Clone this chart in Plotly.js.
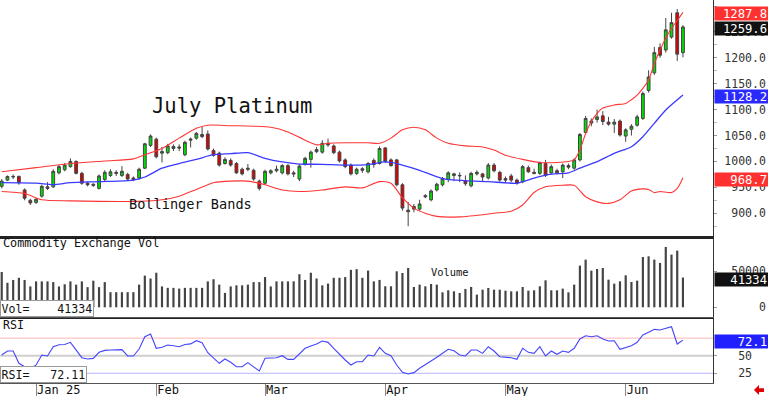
<!DOCTYPE html>
<html><head><meta charset="utf-8">
<script src="https://cdn.plot.ly/plotly-3.0.1.min.js"></script>
<style>html,body{margin:0;padding:0;background:#fff;}#chart{width:768px;height:396px;}</style>
</head><body><div id="chart"></div>
<script>
const dates = [
"2024-12-23","2024-12-24","2024-12-26","2024-12-27","2024-12-30","2024-12-31",
"2025-01-02","2025-01-03","2025-01-06","2025-01-07","2025-01-08","2025-01-09","2025-01-10","2025-01-13","2025-01-14","2025-01-15","2025-01-16","2025-01-17","2025-01-21","2025-01-22","2025-01-23","2025-01-24","2025-01-27","2025-01-28","2025-01-29","2025-01-30","2025-01-31",
"2025-02-03","2025-02-04","2025-02-05","2025-02-06","2025-02-07","2025-02-10","2025-02-11","2025-02-12","2025-02-13","2025-02-14","2025-02-18","2025-02-19","2025-02-20","2025-02-21","2025-02-24","2025-02-25","2025-02-26","2025-02-27","2025-02-28",
"2025-03-03","2025-03-04","2025-03-05","2025-03-06","2025-03-07","2025-03-10","2025-03-11","2025-03-12","2025-03-13","2025-03-14","2025-03-17","2025-03-18","2025-03-19","2025-03-20","2025-03-21","2025-03-24","2025-03-25","2025-03-26","2025-03-27","2025-03-28","2025-03-31",
"2025-04-01","2025-04-02","2025-04-03","2025-04-04","2025-04-07","2025-04-08","2025-04-09","2025-04-10","2025-04-11","2025-04-14","2025-04-15","2025-04-16","2025-04-17","2025-04-21","2025-04-22","2025-04-23","2025-04-24","2025-04-25","2025-04-28","2025-04-29","2025-04-30",
"2025-05-01","2025-05-02","2025-05-05","2025-05-06","2025-05-07","2025-05-08","2025-05-09","2025-05-12","2025-05-13","2025-05-14","2025-05-15","2025-05-16","2025-05-19","2025-05-20","2025-05-21","2025-05-22","2025-05-23","2025-05-27","2025-05-28","2025-05-29","2025-05-30",
"2025-06-02","2025-06-03","2025-06-04","2025-06-05","2025-06-06","2025-06-09","2025-06-10","2025-06-11","2025-06-12","2025-06-13","2025-06-16"];

const open = [952,964,970,971,945,925,921,933,951,951,978,984,990,1000,977,958,956,948,965,973,979,973,975,968,968,987,1031,
1043,1016,1017,1025,1028,1013,1041,1045,1052,1053,1021,1016,996,1002,996,985,987,983,962,
958,978,982,978,992,978,966,995,1004,1019,1018,1035,1030,1018,1003,993,977,986,980,1002,996,
1026,1003,1003,955,906,913,908,934,926,945,955,965,973,972,963,953,976,976,968,993,979,
967,972,964,961,988,979,977,996,978,982,980,992,987,1003,1056,1074,1081,1088,1076,1072,1078,
1049,1062,1070,1083,1137,1171,1220,1215,1240,1287,1210];
const high = [966,973,975,973,948,928,929,955,960,985,993,997,1006,1002,980,961,958,975,983,985,983,991,978,971,988,1036,1052,
1046,1028,1034,1033,1033,1040,1046,1057,1068,1060,1025,1019,1008,1006,999,988,995,986,965,
984,985,992,995,995,982,994,1009,1021,1028,1041,1044,1033,1021,1006,996,988,989,999,1006,1029,
1028,1006,1005,958,922,918,926,937,946,959,970,981,978,979,973,980,983,978,997,997,982,
971,976,967,993,992,986,1000,1003,994,986,996,996,1006,1055,1088,1083,1100,1097,1086,1082,1081,
1064,1072,1090,1135,1176,1221,1228,1277,1287,1294,1263];
const low = [948,962,966,955,925,916,918,930,945,949,975,981,988,975,955,952,951,946,962,970,972,970,962,962,965,985,1028,
1006,998,1014,1020,1020,1010,1027,1042,1045,1021,1009,990,994,990,976,973,981,963,944,
955,975,979,975,973,970,962,992,988,1016,1015,1028,1014,998,987,973,974,978,977,988,994,
997,990,952,905,875,902,905,929,923,942,952,960,962,960,953,950,973,962,965,979,961,
960,960,955,958,978,975,974,970,975,975,968,985,984,1000,1053,1068,1075,1070,1069,1055,1048,
1038,1050,1067,1080,1133,1167,1200,1210,1237,1194,1201];
const close = [962,971,971,959,929,920,927,952,948,981,990,993,1000,977,958,955,954,972,979,980,977,981,966,965,985,1034,1049,
1009,1019,1030,1029,1026,1037,1043,1054,1048,1024,1012,993,1004,993,978,976,985,966,948,
981,982,985,992,976,976,991,1006,1018,1023,1035,1032,1017,1001,990,976,985,983,996,994,1025,
1000,992,955,910,903,908,918,932,943,956,967,978,976,973,957,977,979,970,993,982,964,
964,964,958,990,980,977,998,973,990,978,993,989,1003,1052,1083,1078,1086,1077,1072,1076,1051,
1061,1068,1086,1131,1163,1210,1205,1254,1268,1207,1259.6];

const volume = [49000,34000,38000,41000,38000,29000,36000,36000,36000,35000,29000,32000,36000,31500,36000,28000,37000,
28000,35000,21000,21000,21000,21000,21000,31500,44000,40000,48000,29000,27000,27000,26000,27000,27000,27000,27000,
36000,39000,31500,20000,29000,30500,30500,31500,35000,35000,42000,29000,36000,36000,36000,36000,46000,38000,48000,
40000,30500,33000,41000,41000,42000,52000,53000,41000,51000,36000,38000,
29200,29200,50000,47700,54600,28200,31500,29200,32400,31500,20800,23600,22200,19900,25500,28200,17600,24500,26900,
24500,24500,23100,22200,22200,28200,23100,23600,29200,37500,23600,23600,25900,20800,31500,57900,66200,50900,53200,
54600,38400,32800,36100,44400,35200,37000,69900,70800,66200,61600,83800,73200,78700,41334];

const rsi = [51,56.7,56.7,39.2,34.4,31.1,36.8,51,49.6,62.8,65.6,65.9,69,58.1,47.2,45.3,46.2,54.8,57.6,58.1,58.1,58.6,49.6,49.6,59.5,77,80.8,
60.5,61.9,65.2,64.2,62.8,65.9,66.8,71.3,68.5,54.3,47.2,39.2,45.3,40.6,34.4,34.4,40.1,34.4,28.3,
46.3,46.3,47.2,50,44.8,44.8,53.3,60.5,63.8,66.6,70.9,69,60.5,52,43.9,36.8,41.5,41.5,51,49.6,61.9,
53.3,50,36.8,26.4,24,25.9,32.1,36.8,42.5,47.7,53.3,59.1,57.1,51,49.6,58.1,58.1,53.3,62.8,56.7,48.6,
48.2,47.2,44.8,60.5,54.8,53.3,62.8,49.6,56.7,52,56.7,54.8,60.5,73.7,78.4,77,78.4,73.7,70.9,71.3,59.1,
61.9,64.2,69,79.4,83.2,87.5,86.5,88.9,91.2,66.6,72.11];

const upperIdx = [0,6,12,18,23,25,28,31,34,36,40,44,47,50,53,55,57,60,64,66,68,70,72,74,76,78,81,84,86,88,91,94,97,99,100,101,102,103,104,105,107,109,110,111,112,113,114,115,116,117,118,119];
const upperBand = [980,988,996,1001,1005,1013,1025,1045,1064,1070,1069,1068,1066,1057,1041,1032,1035,1036,1036,1035,1045,1061,1066,1061,1045,1035,1030,1028,1022,1012,1004,998,998,1000,1003,1022,1054,1077,1093,1103,1109,1112,1119,1128,1141,1157,1189,1215,1238,1257,1272,1287.8];
const midIdx = [0,6,9,12,17,23,25,28,31,34,37,40,43,46,49,52,56,60,64,67,69,73,77,81,85,90,91,93,96,99,101,104,107,110,112,114,116,119];
const midBand = [959,958,955,959,961,964,970,987,996,1004,1013,1015,1017,1006,999,995,994.5,993,994,999,996,983,967,963,961,958,961,968,975.6,978,987,999.5,1015.7,1028.5,1047.8,1073.6,1099.3,1128.2];
const lowerIdx = [0,4,7,12,17,24,28,31,34,37,40,43,46,49,52,56,60,63,66,68,70,72,74,76,80,86,89,91,93,95,98,100,102,104,106,108,110,112,113,114,115,117,118,119];
const lowerBand = [942,938,926,924,923,923,926,933,946,959,962,962,955,945,942,945,951,949,961,958,930,910,900,894,893,900,904,916,940,951,954,954,932,922,919,926,943,947,946,940,942,940,948,968.7];

const monthTicks = ["2025-01-02","2025-02-03","2025-03-03","2025-04-01","2025-05-01","2025-06-02"];
const monthLabels = ["Jan 25","Feb","Mar","Apr","May","Jun"];
const priceTicks = [900,950,1000,1050,1100,1150,1200,1250,1300];
const volTicks = [0,50000];
const rsiTicks = [25,50];
const rsiLevels = [75,50,25];

const F = 'DejaVu Sans Mono';
const NB = '\u00a0';
const pad = (s,n)=> NB.repeat(Math.max(0,n-s.length))+s;
const last = a => a[a.length-1];
const H = 383; // plot height in px
const py = px => (H - px)/H;

const traces = [
 {type:'candlestick', x:dates, open:open, high:high, low:low, close:close, xaxis:'x', yaxis:'y',
  increasing:{line:{color:'#444',width:1}, fillcolor:'#00dd00'},
  decreasing:{line:{color:'#444',width:1}, fillcolor:'#dd0000'},
  whiskerwidth:0, hoverinfo:'skip'},
 {type:'scatter', mode:'lines', x:upperIdx.map(i=>dates[i]), y:upperBand, xaxis:'x', yaxis:'y', line:{color:'#ff3535',width:1.1,shape:'spline',smoothing:0.7}, hoverinfo:'skip'},
 {type:'scatter', mode:'lines', x:midIdx.map(i=>dates[i]), y:midBand, xaxis:'x', yaxis:'y', line:{color:'#3a3aff',width:1.3,shape:'spline',smoothing:0.7}, hoverinfo:'skip'},
 {type:'scatter', mode:'lines', x:lowerIdx.map(i=>dates[i]), y:lowerBand, xaxis:'x', yaxis:'y', line:{color:'#ff3535',width:1.1,shape:'spline',smoothing:0.7}, hoverinfo:'skip'},
 {type:'bar', x:dates, y:volume, xaxis:'x2', yaxis:'y2', marker:{color:'#444',line:{width:0}}, width:0.38, hoverinfo:'skip'},
 {type:'scatter', mode:'lines', x:dates, y:rsi, xaxis:'x3', yaxis:'y3', line:{color:'#4444ff',width:1.1}, hoverinfo:'skip'}
];

const ax = {showgrid:false, zeroline:false, fixedrange:true};
const rsiColors = ['#ffb4b4','#cfcfcf','#b4b4ff'];
const rsiWidths = [1,2,1];
const shapes = rsiLevels.map((v,k)=>({type:'line', xref:'paper', x0:0, x1:1, yref:'y3', y0:v, y1:v, layer:'below', line:{color:rsiColors[k], width:rsiWidths[k]}}));
// bottom-right red arrow
shapes.push({type:'path', xref:'paper', yref:'paper', path:'M 1.0575 -0.0185 L 1.0645 -0.0055 L 1.0645 -0.0135 L 1.0715 -0.0135 L 1.0715 -0.0235 L 1.0645 -0.0235 L 1.0645 -0.0315 Z', fillcolor:'#e00000', line:{width:0}});

function valBox(val, txt, yref, bg){
  return {xref:'paper', x:1, xanchor:'left', xshift:1, yref:yref, y:val, yanchor:'middle', yshift:-1.5,
    text:txt, showarrow:false, bgcolor:bg, width:51, height:11, align:'right', borderpad:1,
    font:{family:F, size:12.2, color:'#ffffff'}};
}
const txt = (t,xpx,ypx,size,extra)=>Object.assign({xref:'paper', yref:'paper', x:xpx/713, y:py(ypx), xanchor:'left', yanchor:'middle', text:t, showarrow:false, font:{family:F, size:size, color:'#111'}}, extra||{});

const annotations = [
 valBox(last(upperBand), last(upperBand).toFixed(1), 'y', '#ff3030'),
 valBox(last(close), last(close).toFixed(1), 'y', '#111111'),
 valBox(last(midBand), last(midBand).toFixed(1), 'y', '#2a2aff'),
 valBox(last(lowerBand), last(lowerBand).toFixed(1), 'y', '#ff3030'),
 valBox(last(volume), String(last(volume)), 'y2', '#111111'),
 valBox(last(rsi), last(rsi).toFixed(1), 'y3', '#2020ff'),
 txt('July Platinum', 150, 106, 20.5),
 txt('Bollinger Bands', 127, 204, 13.6),
 txt('Commodity Exchange Vol', 1, 242.5, 11.8),
 txt('Volume', 429, 272, 10.4),
 txt('RSI', 1, 325, 11.6),
 {xref:'paper', yref:'paper', x:0, y:py(317), xanchor:'left', yanchor:'bottom', text:'Vol='+pad(String(last(volume)),9), showarrow:false,
  bgcolor:'#ffffff', bordercolor:'#999', borderwidth:1, borderpad:0.5, font:{family:F,size:11.6,color:'#111'}},
 {xref:'paper', yref:'paper', x:0, y:0, xanchor:'left', yanchor:'bottom', text:'RSI='+pad(last(rsi).toFixed(2),8), showarrow:false,
  bgcolor:'#ffffff', bordercolor:'#999', borderwidth:1, borderpad:0.5, font:{family:F,size:11.6,color:'#111'}}
];

const layout = {
 width:768, height:396, margin:{l:0,r:55,t:0,b:13,pad:0}, paper_bgcolor:'#fff', plot_bgcolor:'#fff', showlegend:false,
 font:{family:F, size:11.5, color:'#222'},
 xaxis:Object.assign({}, ax, {domain:[0,1], anchor:'y', type:'category', range:[-0.3,124.25], autorange:false, showticklabels:false, ticks:'', showline:true, linecolor:'#222', linewidth:2, rangeslider:{visible:false}}),
 xaxis2:Object.assign({}, ax, {matches:'x', anchor:'y2', type:'category', showticklabels:false, ticks:'', showline:true, linecolor:'#222', linewidth:2, mirror:true}),
 xaxis3:Object.assign({}, ax, {matches:'x', anchor:'y3', type:'category', showline:true, linecolor:'#555', linewidth:1, mirror:true,
   tickmode:'array', tickvals:monthTicks, ticktext:monthLabels, ticks:'outside', ticklen:13, tickcolor:'#888', tickwidth:1,
   ticklabelposition:'outside right', ticklabelstandoff:-4, tickfont:{family:F,size:12,color:'#111'}}),
 yaxis:Object.assign({}, ax, {domain:[py(237),1], range:[854.2,1311.6], autorange:false, side:'right', anchor:'x', showline:true, linecolor:'#333', linewidth:1,
   tickmode:'array', tickvals:priceTicks, ticktext:priceTicks.map(v=>pad(v.toFixed(1),6)), ticks:'outside', ticklen:3, tickcolor:'#999', ticklabelstandoff:5,
   tickfont:{family:F,size:11.5,color:'#333'}, minor:{dtick:25, ticks:'outside', ticklen:3, tickcolor:'#bbb'}}),
 yaxis2:Object.assign({}, ax, {domain:[py(317),py(238)], range:[-13470,96250], autorange:false, side:'right', anchor:'x2', showline:true, linecolor:'#333', linewidth:1,
   tickmode:'array', tickvals:volTicks, ticktext:volTicks.map(v=>pad(String(v),6)), ticks:'outside', ticklen:3, tickcolor:'#999', ticklabelstandoff:5,
   tickfont:{family:F,size:11.5,color:'#333'}}),
 yaxis3:Object.assign({}, ax, {domain:[0,py(318)], range:[11.2,103.6], autorange:false, side:'right', anchor:'x3', showline:true, linecolor:'#333', linewidth:1,
   tickmode:'array', tickvals:rsiTicks, ticktext:rsiTicks.map(v=>NB+NB+String(v)), ticks:'outside', ticklen:3, tickcolor:'#999', ticklabelstandoff:5,
   tickfont:{family:F,size:11.5,color:'#333'}}),
 shapes:shapes, annotations:annotations
};

Plotly.newPlot('chart', traces, layout, {staticPlot:true, displayModeBar:false});
</script>
</body></html>
